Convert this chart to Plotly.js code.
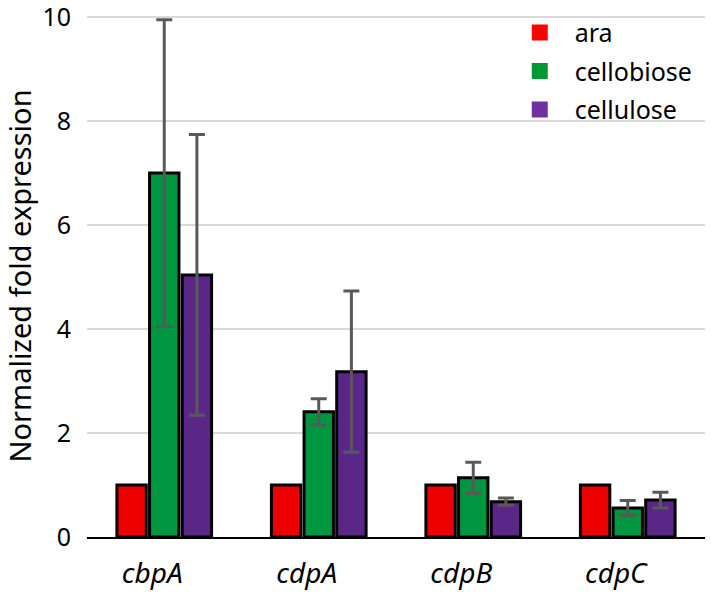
<!DOCTYPE html>
<html>
<head>
<meta charset="utf-8">
<script src="https://cdn.plot.ly/plotly-3.0.1.min.js"></script>
<style>html,body{margin:0;padding:0;background:#fff;}</style>
</head>
<body>
<div id="chart" style="width:711px;height:595px;"></div>
<script>
const genes = ["cbpA", "cdpA", "cdpB", "cdpC"];
const seriesNames = ["ara", "cellobiose", "cellulose"];
const araValues = [1, 1, 1, 1];
const cellobioseValues = [7.0, 2.41, 1.14, 0.56];
const cellobioseErrors = [2.95, 0.25, 0.3, 0.14];
const celluloseValues = [5.04, 3.18, 0.68, 0.71];
const celluloseErrors = [2.7, 1.55, 0.07, 0.15];
const yTicks = [0, 2, 4, 6, 8, 10];

const barColors = ["#ec0000", "#00963f", "#5a2789"];
const legendColors = ["#ff0000", "#009933", "#7030a0"];
const errStyle = (arr) => ({type: "data", array: arr, visible: true, color: "#595959", thickness: 3, width: 8});

const values = [araValues, cellobioseValues, celluloseValues];
const errors = [null, cellobioseErrors, celluloseErrors];

const traces = [];
values.forEach((v, i) => {
  const t = {
    type: "bar",
    name: seriesNames[i],
    x: genes,
    y: v,
    showlegend: false,
    marker: {color: barColors[i], line: {color: "#000000", width: 3}},
    hoverinfo: "x+y+name"
  };
  if (errors[i]) t.error_y = errStyle(errors[i]);
  traces.push(t);
});
// legend entries (plain colour squares, as in the reference)
seriesNames.forEach((n, i) => {
  traces.push({
    type: "scatter",
    mode: "markers",
    name: n,
    legendgroup: n,
    x: [null],
    y: [null],
    marker: {symbol: "square", size: 17, color: legendColors[i]},
    hoverinfo: "skip"
  });
});

const layout = {
  width: 711,
  height: 595,
  margin: {l: 87, r: 6, t: 15, b: 58},
  paper_bgcolor: "#ffffff",
  plot_bgcolor: "#ffffff",
  font: {family: "'Noto Sans', 'Open Sans', sans-serif", color: "#000000", size: 24},
  barmode: "group",
  bargap: 0.366,
  bargroupgap: 0.1,
  xaxis: {
    type: "category",
    showline: true,
    linecolor: "#000000",
    linewidth: 2,
    ticks: "",
    showgrid: false,
    tickfont: {size: 28, style: "italic"},
    ticklabelshift: -12,
    ticklabelstandoff: 10,
    ticklabeloverflow: "allow"
  },
  yaxis: {
    range: [0, 10.04],
    tickvals: yTicks,
    ticktext: yTicks.map(String),
    showline: false,
    zeroline: false,
    gridcolor: "#d9d9d9",
    gridwidth: 2,
    tickfont: {size: 25},
    ticklabelstandoff: 15,
    ticklabeloverflow: "allow",
    title: {text: "Normalized fold expression", font: {size: 29}, standoff: 5}
  },
  legend: {
    x: 0.676,
    xanchor: "left",
    y: 1.01,
    yanchor: "top",
    bgcolor: "rgba(255,255,255,0)",
    font: {size: 25},
    itemwidth: 60,
    tracegroupgap: 3
  }
};

Plotly.newPlot("chart", traces, layout, {displayModeBar: false, staticPlot: true});
</script>
</body>
</html>
